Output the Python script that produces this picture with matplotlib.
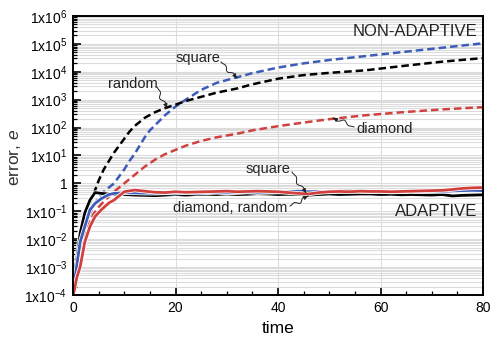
import numpy as np
import matplotlib
matplotlib.use("Agg")
import matplotlib.pyplot as plt
from matplotlib.ticker import FixedLocator, MultipleLocator, LogLocator, NullFormatter
import matplotlib.patheffects as pe

plt.rcParams['font.family'] = ['Liberation Sans', 'DejaVu Sans']
plt.rcParams['mathtext.fontset'] = 'custom'
plt.rcParams['mathtext.rm'] = 'Liberation Sans'
plt.rcParams['mathtext.it'] = 'Liberation Sans:italic'

# non-adaptive (dashed), log10 of error
t_dash = [0, 0.5, 1, 2, 3, 4, 5, 6, 7, 8, 9, 10, 11, 12, 13, 14, 15, 16, 18, 20,
          22, 25, 28, 32, 35, 40, 45, 50, 57, 65, 72, 80]
random_na = [-4, -3.2, -2.5, -1.5, -0.8, -0.4, 0.1, 0.5, 0.8, 1.1, 1.35, 1.6, 1.85, 2.05,
             2.2, 2.35, 2.45, 2.55, 2.7, 2.82, 2.95, 3.1, 3.25, 3.4, 3.55, 3.75, 3.88, 3.96,
             4.05, 4.22, 4.36, 4.49]
square_na = [-4, -3.3, -2.6, -1.8, -1.2, -0.8, -0.5, -0.3, -0.15, 0.0, 0.25, 0.5, 0.8, 1.05,
             1.35, 1.65, 1.9, 2.08, 2.45, 2.75, 3.0, 3.35, 3.6, 3.8, 3.95, 4.15, 4.3, 4.42,
             4.56, 4.72, 4.86, 5.02]
diamond_na = [-4, -3.4, -2.8, -2.0, -1.5, -1.1, -0.85, -0.65, -0.47, -0.3, -0.15, 0.0, 0.15, 0.3,
              0.45, 0.6, 0.72, 0.85, 1.05, 1.2, 1.35, 1.52, 1.65, 1.78, 1.9, 2.05, 2.18, 2.3,
              2.44, 2.56, 2.65, 2.73]

# adaptive (solid), log10 of error
t_sol = [0, 0.3, 0.7, 1.4, 2.3, 3.3, 4.3, 5.5, 7, 8, 10, 12, 14, 16, 18, 20, 22, 24, 26, 28,
         30, 32, 34, 36, 38, 40, 42, 44, 46, 48, 50, 52, 54, 56, 58, 60, 62, 64, 66, 68,
         70, 72, 74, 76, 78, 80]
random_ad = [-4, -3.3, -2.75, -1.78, -1.06, -0.6, -0.33, -0.36, -0.38, -0.4, -0.4, -0.42, -0.43, -0.44,
             -0.42, -0.4, -0.42, -0.4, -0.39, -0.4, -0.38, -0.4, -0.39, -0.37, -0.38, -0.4, -0.39, -0.4,
             -0.42, -0.4, -0.38, -0.4, -0.39, -0.38, -0.38, -0.4, -0.39, -0.41, -0.4, -0.41, -0.42, -0.4,
             -0.45, -0.43, -0.42, -0.41]
square_ad = [-4, -3.5, -2.99, -2.1, -1.55, -0.95, -0.72, -0.55, -0.4, -0.36, -0.34, -0.34, -0.35, -0.35,
             -0.34, -0.35, -0.33, -0.35, -0.34, -0.32, -0.34, -0.33, -0.31, -0.33, -0.32, -0.31, -0.3, -0.28,
             -0.3, -0.29, -0.31, -0.28, -0.27, -0.29, -0.3, -0.29, -0.31, -0.3, -0.29, -0.3, -0.28, -0.29,
             -0.27, -0.26, -0.25, -0.26]
diamond_ad = [-4, -3.8, -3.4, -2.99, -2.1, -1.55, -1.19, -0.95, -0.7, -0.6, -0.3, -0.24, -0.28, -0.32,
              -0.33, -0.3, -0.32, -0.31, -0.3, -0.29, -0.28, -0.3, -0.29, -0.28, -0.29, -0.3, -0.33, -0.36,
              -0.38, -0.33, -0.3, -0.29, -0.3, -0.28, -0.29, -0.29, -0.3, -0.29, -0.28, -0.27, -0.26, -0.25,
              -0.22, -0.18, -0.16, -0.15]

yticks = [1e-4, 1e-3, 1e-2, 1e-1, 1, 1e1, 1e2, 1e3, 1e4, 1e5, 1e6]
ylabels = [r'1x10$^{-4}$', r'1x10$^{-3}$', r'1x10$^{-2}$', r'1x10$^{-1}$', '1',
           r'1x10$^{1}$', r'1x10$^{2}$', r'1x10$^{3}$', r'1x10$^{4}$', r'1x10$^{5}$', r'1x10$^{6}$']
xticks = [0, 20, 40, 60, 80]

black = '#000000'
blue = '#3d5cb8'
red = '#d0413e'
txtc = '#222222'

fig = plt.figure(figsize=(4.98, 3.54), dpi=100)
ax = fig.add_axes([0.1466, 0.1667, 0.8234, 0.7883])

dash = (0, (3.0, 1.6))
ax.plot(t_dash, 10.0 ** np.array(diamond_na), color=red, lw=1.8, ls=dash)
ax.plot(t_dash, 10.0 ** np.array(square_na), color=blue, lw=1.8, ls=dash)
ax.plot(t_dash, 10.0 ** np.array(random_na), color=black, lw=1.8, ls=dash)

halo = [pe.Stroke(linewidth=3.2, foreground='white'), pe.Normal()]
ax.plot(t_sol, 10.0 ** np.array(random_ad), color=black, lw=2.0, path_effects=halo)
ax.plot(t_sol, 10.0 ** np.array(square_ad), color=blue, lw=2.0, path_effects=halo)
ax.plot(t_sol, 10.0 ** np.array(diamond_ad), color=red, lw=2.0, path_effects=halo)

ax.set_yscale('log')
ax.set_xlim(0, 80)
ax.set_ylim(1e-4, 1e6)
ax.yaxis.set_major_locator(FixedLocator(yticks))
ax.set_yticklabels(ylabels)
ax.yaxis.set_minor_locator(LogLocator(base=10, subs=np.arange(2, 10), numticks=20))
ax.yaxis.set_minor_formatter(NullFormatter())
ax.xaxis.set_major_locator(FixedLocator(xticks))
ax.xaxis.set_minor_locator(MultipleLocator(5))

ax.grid(True, which='both', axis='y', color='#dcdcdc', lw=0.8)
ax.grid(True, which='major', axis='x', color='#dcdcdc', lw=0.8)
ax.set_axisbelow(True)

ax.tick_params(which='major', direction='in', length=6, width=1.2, labelsize=10,
               top=False, right=False, pad=4)
ax.tick_params(which='minor', direction='in', length=3, width=0.9, top=False, right=False)
for s in ax.spines.values():
    s.set_linewidth(1.4)

ax.set_xlabel('time', fontsize=12.5, labelpad=5)
ax.set_ylabel('error, $e$', fontsize=12.5, color='#333333', va='center')
ax.yaxis.set_label_coords(-0.141, 0.495)

ax.text(0.985, 0.943, 'NON-ADAPTIVE', transform=ax.transAxes, ha='right', va='center',
        fontsize=12, color=txtc)
ax.text(0.985, 0.30, 'ADAPTIVE', transform=ax.transAxes, ha='right', va='center',
        fontsize=12, color=txtc)


def squiggle(p0, p1, amp=2.5, waves=1.5):
    # wavy leader line with arrowhead, p0/p1 in display pixels
    p0 = np.array(p0, float)
    p1 = np.array(p1, float)
    d = p1 - p0
    n = np.array([-d[1], d[0]]) / np.hypot(*d)
    s = np.linspace(0, 1, 80)
    win = np.sin(np.pi * s) ** 2
    w = amp * np.sin(2 * np.pi * waves * s) * win
    pts = p0 + np.outer(s, d) + np.outer(w, n)
    inv = ax.transData.inverted()
    dp = inv.transform(pts)
    ax.plot(dp[:, 0], dp[:, 1], color=txtc, lw=0.7)
    ax.annotate('', xy=inv.transform(p1), xytext=inv.transform(pts[-8]),
                arrowprops=dict(arrowstyle='-|>', lw=0.7, color=txtc, mutation_scale=6,
                                shrinkA=0, shrinkB=0))


def to_px(x, y):
    # reference pixel coordinates (top-left origin) -> display
    return (x, 354 - y)


ax.text(24.4, 10 ** 4.49, 'square', fontsize=10.5, ha='center', va='center', color=txtc)
ax.text(11.6, 10 ** 3.56, 'random', fontsize=10.5, ha='center', va='center', color=txtc)
ax.text(60.7, 10 ** 1.95, 'diamond', fontsize=10.5, ha='center', va='center', color=txtc)
ax.text(38.1, 10 ** 0.52, 'square', fontsize=10.5, ha='center', va='center', color=txtc)
ax.text(30.7, 10 ** -0.88, 'diamond, random', fontsize=10.5, ha='center', va='center', color=txtc)

fig.canvas.draw()
squiggle(to_px(221, 62), to_px(237, 78))
squiggle(to_px(157, 87), to_px(167, 108))
squiggle(to_px(354, 127), to_px(333, 118))
squiggle(to_px(292, 172), to_px(306, 193))
squiggle(to_px(290, 206), to_px(308, 196))

fig.savefig('out.png', dpi=100)
